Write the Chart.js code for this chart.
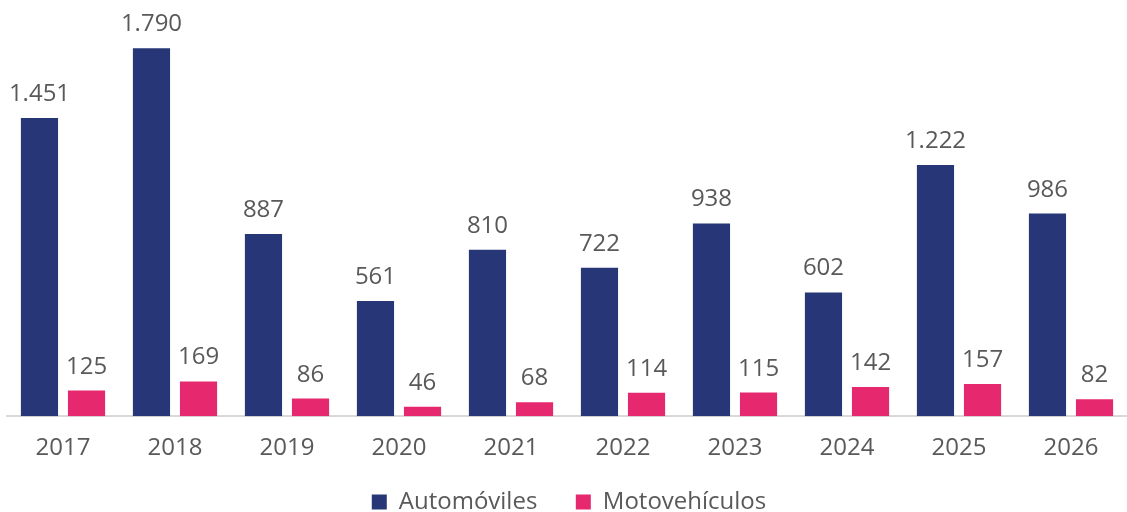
<!DOCTYPE html>
<html>
	<head>
		<meta charset="UTF-8">
		<title>Automóviles y Motovehículos</title>
		<script src="https://cdn.jsdelivr.net/npm/chart.js"></script>
		<style>
			* {padding: 0; margin: 0;}
			body {background: #ffffff;}
			div {width: 1127px; height: 512px;}
		</style>
	</head>
	<body>
		<div>
			<canvas id="myChart"></canvas>
		</div>
		<script>
			const years = ['2017', '2018', '2019', '2020', '2021', '2022', '2023', '2024', '2025', '2026'];
			const autos = [1451, 1790, 887, 561, 810, 722, 938, 602, 1222, 986];
			const motos = [125, 169, 86, 46, 68, 114, 115, 142, 157, 82];
			const textColor = '#595959';
			const fontName = "'Open Sans', sans-serif";

			// etiquetas de valor encima de cada barra
			const valueLabels = {
				id: 'valueLabels',
				afterDatasetsDraw(chart) {
					const ctx = chart.ctx;
					ctx.save();
					ctx.fillStyle = textColor;
					ctx.font = '24px ' + fontName;
					ctx.textAlign = 'center';
					ctx.textBaseline = 'alphabetic';
					chart.data.datasets.forEach((ds, i) => {
						chart.getDatasetMeta(i).data.forEach((bar, j) => {
							ctx.fillText(ds.data[j].toLocaleString('de-DE'), bar.x, bar.y - 17);
						});
					});
					ctx.restore();
				}
			};

			new Chart(document.getElementById('myChart'), {
				type: 'bar',
				data: {
					labels: years,
					datasets: [{
						label: 'Automóviles',
						data: autos,
						backgroundColor: '#263677',
						categoryPercentage: 0.84,
						barPercentage: 0.79
					}, {
						label: 'Motovehículos',
						data: motos,
						backgroundColor: '#e6296f',
						categoryPercentage: 0.84,
						barPercentage: 0.79
					}]
				},
				options: {
					responsive: true,
					maintainAspectRatio: false,
					animation: false,
					layout: {padding: {left: 7, right: -4, top: 0, bottom: -12}},
					plugins: {
						legend: {
							position: 'bottom',
							labels: {
								color: textColor,
								font: {family: fontName, size: 24},
								boxWidth: 15,
								boxHeight: 15,
								padding: 26,
								// un poco más de separación entre las dos series
								generateLabels(chart) {
									const items = Chart.defaults.plugins.legend.labels.generateLabels(chart);
									items.forEach((it, i) => { if (i < items.length - 1) it.text += '  '; });
									return items;
								}
							}
						},
						tooltip: {enabled: false}
					},
					scales: {
						x: {
							grid: {display: false, drawTicks: false},
							border: {color: '#d9d9d9', width: 2},
							ticks: {color: textColor, font: {family: fontName, size: 24}, padding: 18},
							afterFit(scale) {
								scale.height -= 17; // acerca la leyenda a los años
							}
						},
						y: {
							display: false,
							min: 0,
							max: 2025
						}
					}
				},
				plugins: [valueLabels]
			});
		</script>
	</body>
</html>
